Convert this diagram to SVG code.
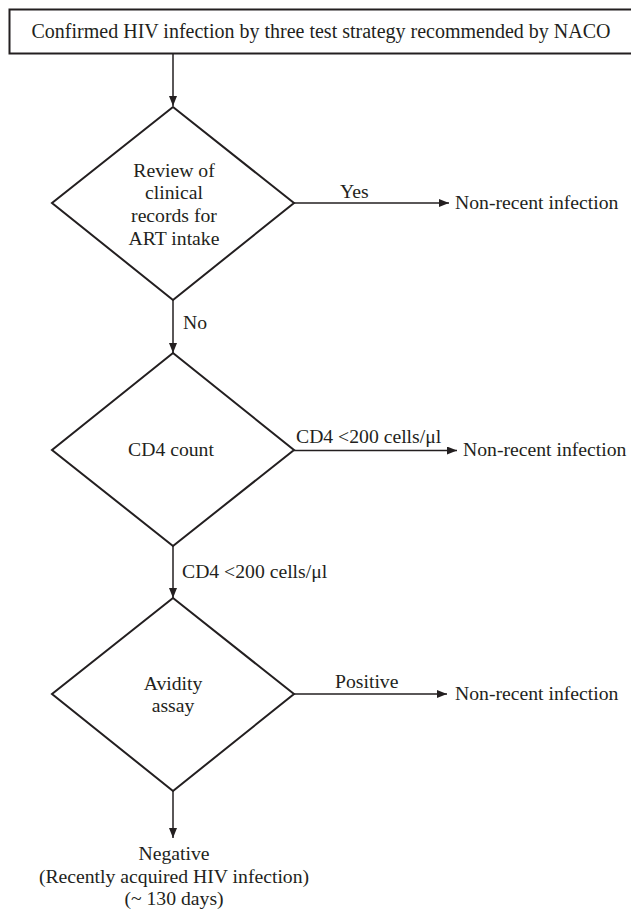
<svg xmlns="http://www.w3.org/2000/svg" width="631" height="914" viewBox="0 0 631 914">
<defs>
<style>
text{font-family:"Liberation Serif","Times New Roman",serif;font-size:19.7px;fill:#231f20}
.c{text-anchor:middle}
.big{font-size:20px}
.shape{fill:#fff;stroke:#231f20;stroke-width:2}
.conn{stroke:#231f20;stroke-width:1.5;fill:none}
</style>
<marker id="ah" viewBox="0 0 10 8" refX="10" refY="4" markerWidth="10" markerHeight="8" markerUnits="userSpaceOnUse" orient="auto">
<path d="M0,0 L10,4 L0,8 Z" fill="#231f20"/>
</marker>
</defs>
<rect width="631" height="914" fill="#fff"/>
<g id="start">
<rect class="shape" x="9.5" y="9.5" width="624" height="44"/>
<text class="c big" x="321" y="38">Confirmed HIV infection by three test strategy recommended by NACO</text>
</g>
<g id="review">
<polygon class="shape" points="173,107 294,203 173,300 52,203"/>
<text class="c" x="174" y="177">Review of</text>
<text class="c" x="174" y="199">clinical</text>
<text class="c" x="174" y="222">records for</text>
<text class="c" x="174" y="245">ART intake</text>
</g>
<g id="cd4">
<polygon class="shape" points="173,353 294,450 173,546 52,450"/>
<text class="c" x="171" y="456">CD4 count</text>
</g>
<g id="avidity">
<polygon class="shape" points="173,598 294,694 173,791 52,694"/>
<text class="c" x="173" y="690">Avidity</text>
<text class="c" x="173" y="712">assay</text>
</g>
<g id="out1"><text x="455" y="209">Non-recent infection</text></g>
<g id="out2"><text x="463" y="456">Non-recent infection</text></g>
<g id="out3"><text x="455" y="700">Non-recent infection</text></g>
<g id="negative">
<text class="c" x="174" y="860">Negative</text>
<text class="c" x="174" y="883">(Recently acquired HIV infection)</text>
<text class="c" x="174" y="905">(~ 130 days)</text>
</g>
<g id="connectors">
<line class="conn" x1="173" y1="54" x2="173" y2="106" marker-end="url(#ah)"/>
<line class="conn" x1="294" y1="203" x2="449" y2="203" marker-end="url(#ah)"/>
<text x="340" y="198">Yes</text>
<line class="conn" x1="173" y1="300" x2="173" y2="353" marker-end="url(#ah)"/>
<text x="183" y="329">No</text>
<line class="conn" x1="294" y1="450.5" x2="457" y2="450.5" marker-end="url(#ah)"/>
<text x="296" y="443">CD4 &lt;200 cells/μl</text>
<line class="conn" x1="173" y1="546" x2="173" y2="598" marker-end="url(#ah)"/>
<text x="182" y="578">CD4 &lt;200 cells/μl</text>
<line class="conn" x1="294" y1="694" x2="447" y2="694" marker-end="url(#ah)"/>
<text x="335" y="688">Positive</text>
<line class="conn" x1="173" y1="791" x2="173" y2="838" marker-end="url(#ah)"/>
</g>
</svg>
